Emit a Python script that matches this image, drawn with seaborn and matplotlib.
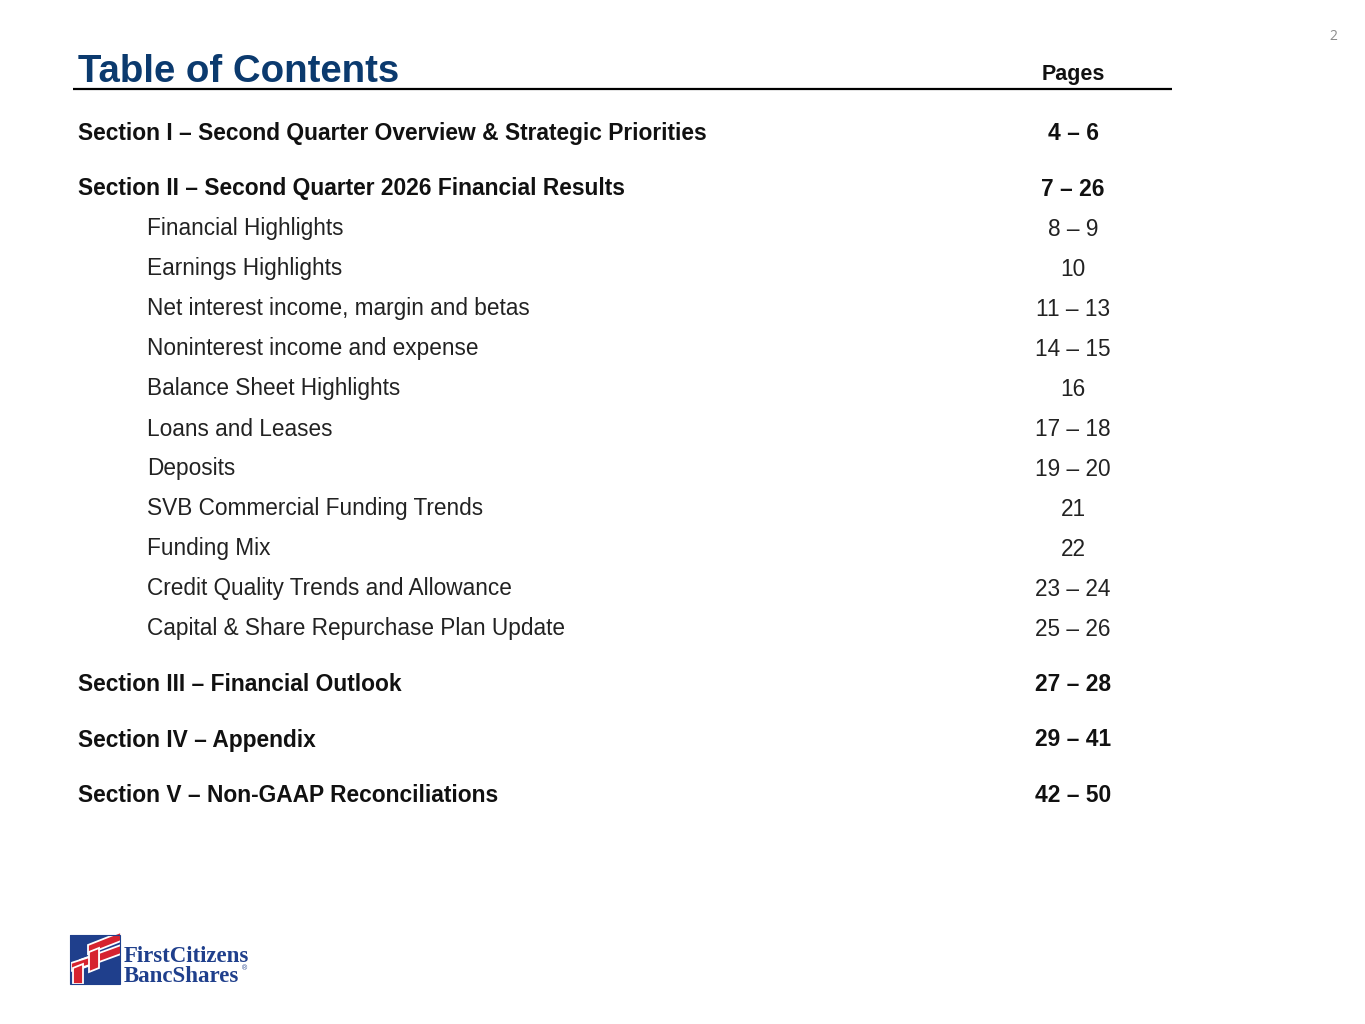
import matplotlib
matplotlib.use("Agg")
import matplotlib.pyplot as plt
from matplotlib.patches import Rectangle, Polygon
import seaborn as sns
import pandas as pd

# ---- data ----
entries = [
    "Section I – Second Quarter Overview & Strategic Priorities",
    "Section II – Second Quarter 2026 Financial Results",
    "Financial Highlights",
    "Earnings Highlights",
    "Net interest income, margin and betas",
    "Noninterest income and expense",
    "Balance Sheet Highlights",
    "Loans and Leases",
    "Deposits",
    "SVB Commercial Funding Trends",
    "Funding Mix",
    "Credit Quality Trends and Allowance",
    "Capital & Share Repurchase Plan Update",
    "Section III – Financial Outlook",
    "Section IV – Appendix",
    "Section V – Non-GAAP Reconciliations",
]
pages = ["4 – 6", "7 – 26", "8 – 9", "10", "11 – 13", "14 – 15", "16",
         "17 – 18", "19 – 20", "21", "22", "23 – 24", "25 – 26",
         "27 – 28", "29 – 41", "42 – 50"]
levels = [0, 0, 1, 1, 1, 1, 1, 1, 1, 1, 1, 1, 1, 0, 0, 0]
title = "Table of Contents"
pages_header = "Pages"
page_number = "2"

sns.set_theme(style="white")
plt.rcParams['font.family'] = ['Liberation Sans', 'DejaVu Sans']

W, H = 1365, 1024
fig = plt.figure(figsize=(W / 100, H / 100), dpi=100)
ax = fig.add_axes([0, 0, 1, 1])
ax.set_xlim(0, W)
ax.set_ylim(H, 0)
ax.axis("off")

df = pd.DataFrame({"entry": entries, "pages": pages, "level": levels})
ys = []
y = 132
for i, lv in enumerate(levels):
    if i > 0:
        y += 40 if lv == 1 else 55.5
    ys.append(y)
df["y"] = ys
base = 8  # baseline offset from the cap-height centre

navy = "#0B3A6E"
ax.text(78, 82, title, fontsize=27.6, fontweight="bold", color=navy, va="baseline", ha="left")
ax.text(1073, 80, pages_header, fontsize=15.5, fontweight="bold", color="#111111", va="baseline", ha="center")
ax.plot([73, 1172], [89, 89], color="black", lw=1.6, solid_capstyle="butt")
ax.text(1333, 37, page_number, fontsize=10, color="#8c8c8c", va="center", ha="center",
        family=["Open Sans", "DejaVu Sans"])

for _, r in df.iterrows():
    if r.level == 0:
        kw = dict(fontsize=16.35, fontweight="bold", color="#111111", va="baseline")
        x0 = 78
    else:
        kw = dict(fontsize=16.3, color="#222222", va="baseline")
        x0 = 147
    ax.text(x0, r.y + base, r.entry, ha="left", **kw)
    ax.text(1073, r.y + base, r.pages, ha="center", **kw)

# ---- logo ----
blue = "#1F3F8C"
red = "#D6232F"
ax.add_patch(Rectangle((70, 935), 50, 49, facecolor=blue, edgecolor="none"))
shapes = [
    [(88, 945), (121, 932), (121, 941), (88, 954)],      # top long stripe
    [(80, 960), (121, 945), (121, 954), (80, 969)],      # middle long stripe
    [(71, 963), (99, 954), (99, 962), (71, 971)],        # left short stripe
    [(89, 952), (99, 948), (99, 968), (89, 972)],        # right stem
    [(73, 968), (83, 964), (83, 984), (73, 984)],        # left stem
]
for s in shapes:
    ax.add_patch(Polygon(s, closed=True, facecolor=red, edgecolor="white", lw=1.3))
ax.add_patch(Rectangle((70, 935), 50, 49, facecolor="none", edgecolor=blue, lw=0.8))

serif = ["Liberation Serif", "DejaVu Serif"]
ax.text(124, 957, "FirstCitizens", fontsize=16.5, color=blue, va="center", ha="left",
        family=serif, fontweight="bold")
ax.text(124, 977, "BancShares", fontsize=16.5, color=blue, va="center", ha="left",
        family=serif, fontweight="bold")
ax.text(242, 969, "®", fontsize=5, color=blue, va="center", ha="left")

fig.savefig("out.png", dpi=100, facecolor="white")
